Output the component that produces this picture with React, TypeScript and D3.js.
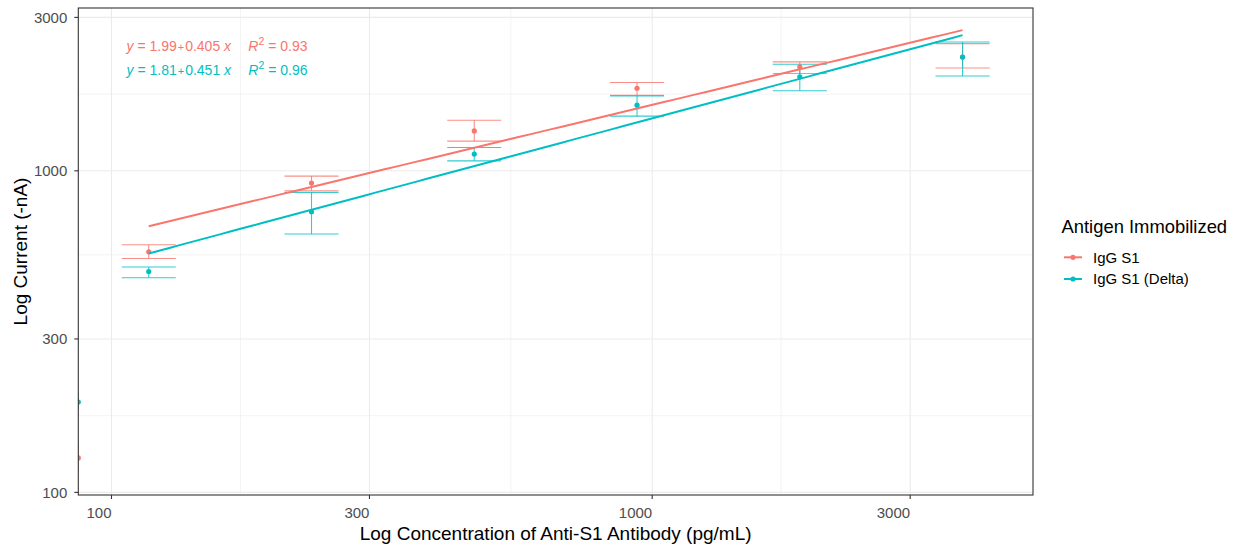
import React, { useEffect } from 'react';
import * as d3 from 'd3';

// ---- data ----
const concentrations = [0, 117.1875, 234.375, 468.75, 937.5, 1875, 3750];
const s1Mean = [128, 560, 916, 1331, 1806, 2104, 2259];
const s1Lower = [115, 534, 867, 1237, 1718, 2007, 2089];
const s1Upper = [142, 589, 963, 1437, 1882, 2181, 2487];
const deltaMean = [191, 486, 746, 1127, 1600, 1961, 2259];
const deltaLower = [180, 465, 636, 1074, 1479, 1775, 1972];
const deltaUpper = [203, 502, 857, 1182, 1710, 2145, 2515];
const seriesNames = ['IgG S1', 'IgG S1 (Delta)'];
const seriesColors = ['#F8766D', '#00BFC4'];
const fitIntercept = [1.99, 1.81];
const fitSlope = [0.405, 0.451];
const fitR2 = ['0.93', '0.96'];
const xTicks = [100, 300, 1000, 3000];
const yTicks = [100, 300, 1000, 3000];
const xTitle = 'Log Concentration of Anti-S1 Antibody (pg/mL)';
const yTitle = 'Log Current (-nA)';
const legendTitle = 'Antigen Immobilized';

const W = 1239;
const H = 550;
const L = 78.3;
const R = 1033;
const T = 8;
const B = 495;
const FONT = '"Liberation Sans", Arial, Helvetica, sans-serif';
const ERR_HALF = 0.05; // errorbar half-width in log10 units

export default function App() {
  useEffect(() => {
    document.body.style.margin = '0';
  }, []);

  const series = [
    { name: seriesNames[0], color: seriesColors[0], mean: s1Mean, lo: s1Lower, hi: s1Upper, a: fitIntercept[0], b: fitSlope[0], r2: fitR2[0] },
    { name: seriesNames[1], color: seriesColors[1], mean: deltaMean, lo: deltaLower, hi: deltaUpper, a: fitIntercept[1], b: fitSlope[1], r2: fitR2[1] },
  ];

  const posX = concentrations.filter((c) => c > 0);
  const lxMin = Math.log10(d3.min(posX)!);
  const lxMax = Math.log10(d3.max(posX)!);
  const xlo = lxMin - ERR_HALF;
  const xhi = lxMax + ERR_HALF;
  const xpad = (xhi - xlo) * 0.05;
  const x = d3.scaleLog().domain([10 ** (xlo - xpad), 10 ** (xhi + xpad)]).range([L, R]);

  const yVals: number[] = [];
  series.forEach((s) => {
    yVals.push(...s.mean, ...s.lo, ...s.hi);
    yVals.push(10 ** (s.a + s.b * lxMin), 10 ** (s.a + s.b * lxMax));
  });
  const ylo = Math.log10(d3.min(yVals)!);
  const yhi = Math.log10(d3.max(yVals)!);
  const ypad = (yhi - ylo) * 0.05;
  const y = d3.scaleLog().domain([10 ** (ylo - ypad), 10 ** (yhi + ypad)]).range([B, T]);

  const px = (c: number) => (c > 0 ? x(c) : L);

  const minor = (ticks: number[]) =>
    ticks.slice(0, -1).map((t, i) => Math.sqrt(t * ticks[i + 1]));
  const xMinor = minor(xTicks);
  const yMinor = minor(yTicks);

  const fitLine = (a: number, b: number) => {
    const pts = d3.range(80).map((i) => {
      const lx = lxMin + ((lxMax - lxMin) * i) / 79;
      return [10 ** lx, 10 ** (a + b * lx)] as [number, number];
    });
    return d3.line<[number, number]>().x((d) => x(d[0])).y((d) => y(d[1]))(pts)!;
  };

  const errX = (c: number, sign: number) => (c > 0 ? x(10 ** (Math.log10(c) + sign * ERR_HALF)) : L);

  const legX = 1061.5;

  return (
    <svg width={W} height={H} style={{ position: 'absolute', left: 0, top: 0, background: '#fff' }} fontFamily={FONT}>
      <defs>
        <clipPath id="panel">
          <rect x={L} y={T} width={R - L} height={B - T} />
        </clipPath>
      </defs>
      <rect x={0} y={0} width={W} height={H} fill="#fff" />
      {/* grid */}
      <g>
        {xMinor.map((t) => (
          <line key={'xm' + t} x1={x(t)} x2={x(t)} y1={T} y2={B} stroke="#EBEBEB" strokeWidth={0.6} />
        ))}
        {yMinor.map((t) => (
          <line key={'ym' + t} x1={L} x2={R} y1={y(t)} y2={y(t)} stroke="#EBEBEB" strokeWidth={0.6} />
        ))}
        {xTicks.map((t) => (
          <line key={'xg' + t} x1={x(t)} x2={x(t)} y1={T} y2={B} stroke="#EBEBEB" strokeWidth={1.1} />
        ))}
        {yTicks.map((t) => (
          <line key={'yg' + t} x1={L} x2={R} y1={y(t)} y2={y(t)} stroke="#EBEBEB" strokeWidth={1.1} />
        ))}
      </g>
      <g clipPath="url(#panel)">
        {/* error bars */}
        {series.map((s) =>
          concentrations.map((c, i) => (
            <g key={s.name + 'e' + i} stroke={s.color} strokeWidth={1.1} strokeOpacity={0.8} fill="none">
              <line x1={px(c)} x2={px(c)} y1={y(s.lo[i])} y2={y(s.hi[i])} />
              <line x1={errX(c, -1)} x2={errX(c, 1)} y1={y(s.lo[i])} y2={y(s.lo[i])} />
              <line x1={errX(c, -1)} x2={errX(c, 1)} y1={y(s.hi[i])} y2={y(s.hi[i])} />
            </g>
          ))
        )}
        {/* points */}
        {series.map((s) =>
          concentrations.map((c, i) => (
            <circle key={s.name + 'p' + i} cx={px(c)} cy={y(s.mean[i])} r={2.6} fill={s.color} />
          ))
        )}
        {/* fit lines */}
        {series.map((s) => (
          <path key={s.name + 'fit'} d={fitLine(s.a, s.b)} stroke={s.color} strokeWidth={2} fill="none" />
        ))}
      </g>
      {/* equations */}
      {series.map((s, k) => {
        const by = 50.5 + k * 24.3;
        return (
          <g key={s.name + 'eq'} fill={s.color} fontSize={14}>
            <text x={126.5} y={by}>
              <tspan fontStyle="italic">y</tspan>
              <tspan>{' = ' + s.a.toFixed(2)}</tspan>
              <tspan fontSize={11} dx={1}>+</tspan>
              <tspan dx={1}>{s.b.toFixed(3) + ' '}</tspan>
              <tspan fontStyle="italic">x</tspan>
            </text>
            <text x={248.3} y={by}>
              <tspan fontStyle="italic">R</tspan>
              <tspan fontSize={10.5} dy={-6}>2</tspan>
              <tspan dy={6}>{' = ' + s.r2}</tspan>
            </text>
          </g>
        );
      })}
      {/* panel border */}
      <rect x={L} y={T} width={R - L} height={B - T} fill="none" stroke="#333333" strokeWidth={1.1} />
      {/* axes ticks */}
      {xTicks.map((t) => (
        <g key={'xt' + t}>
          <line x1={x(t)} x2={x(t)} y1={B} y2={B + 4} stroke="#333333" strokeWidth={1.1} />
          <text x={x(t)} y={518} textAnchor="end" fontSize={15} fill="#4D4D4D">
            {t}
          </text>
        </g>
      ))}
      {yTicks.map((t) => (
        <g key={'yt' + t}>
          <line x1={L - 4} x2={L} y1={y(t)} y2={y(t)} stroke="#333333" strokeWidth={1.1} />
          <text x={L - 11} y={y(t)} dy="0.36em" textAnchor="end" fontSize={15} fill="#4D4D4D">
            {t}
          </text>
        </g>
      ))}
      {/* axis titles */}
      <text x={(L + R) / 2} y={540} textAnchor="middle" fontSize={19} fill="#000">
        {xTitle}
      </text>
      <text transform={`translate(27, ${(T + B) / 2}) rotate(-90)`} textAnchor="middle" fontSize={19} fill="#000">
        {yTitle}
      </text>
      {/* legend */}
      <text x={legX} y={233} fontSize={18.4} fill="#000">
        {legendTitle}
      </text>
      {series.map((s, k) => {
        const cy = 257.3 + k * 21.7;
        return (
          <g key={s.name + 'leg'}>
            <line x1={1064} x2={1082} y1={cy} y2={cy} stroke={s.color} strokeWidth={2} />
            <circle cx={1073} cy={cy} r={2.6} fill={s.color} />
            <text x={1093} y={cy} dy="0.36em" fontSize={15} fill="#000">
              {s.name}
            </text>
          </g>
        );
      })}
    </svg>
  );
}
